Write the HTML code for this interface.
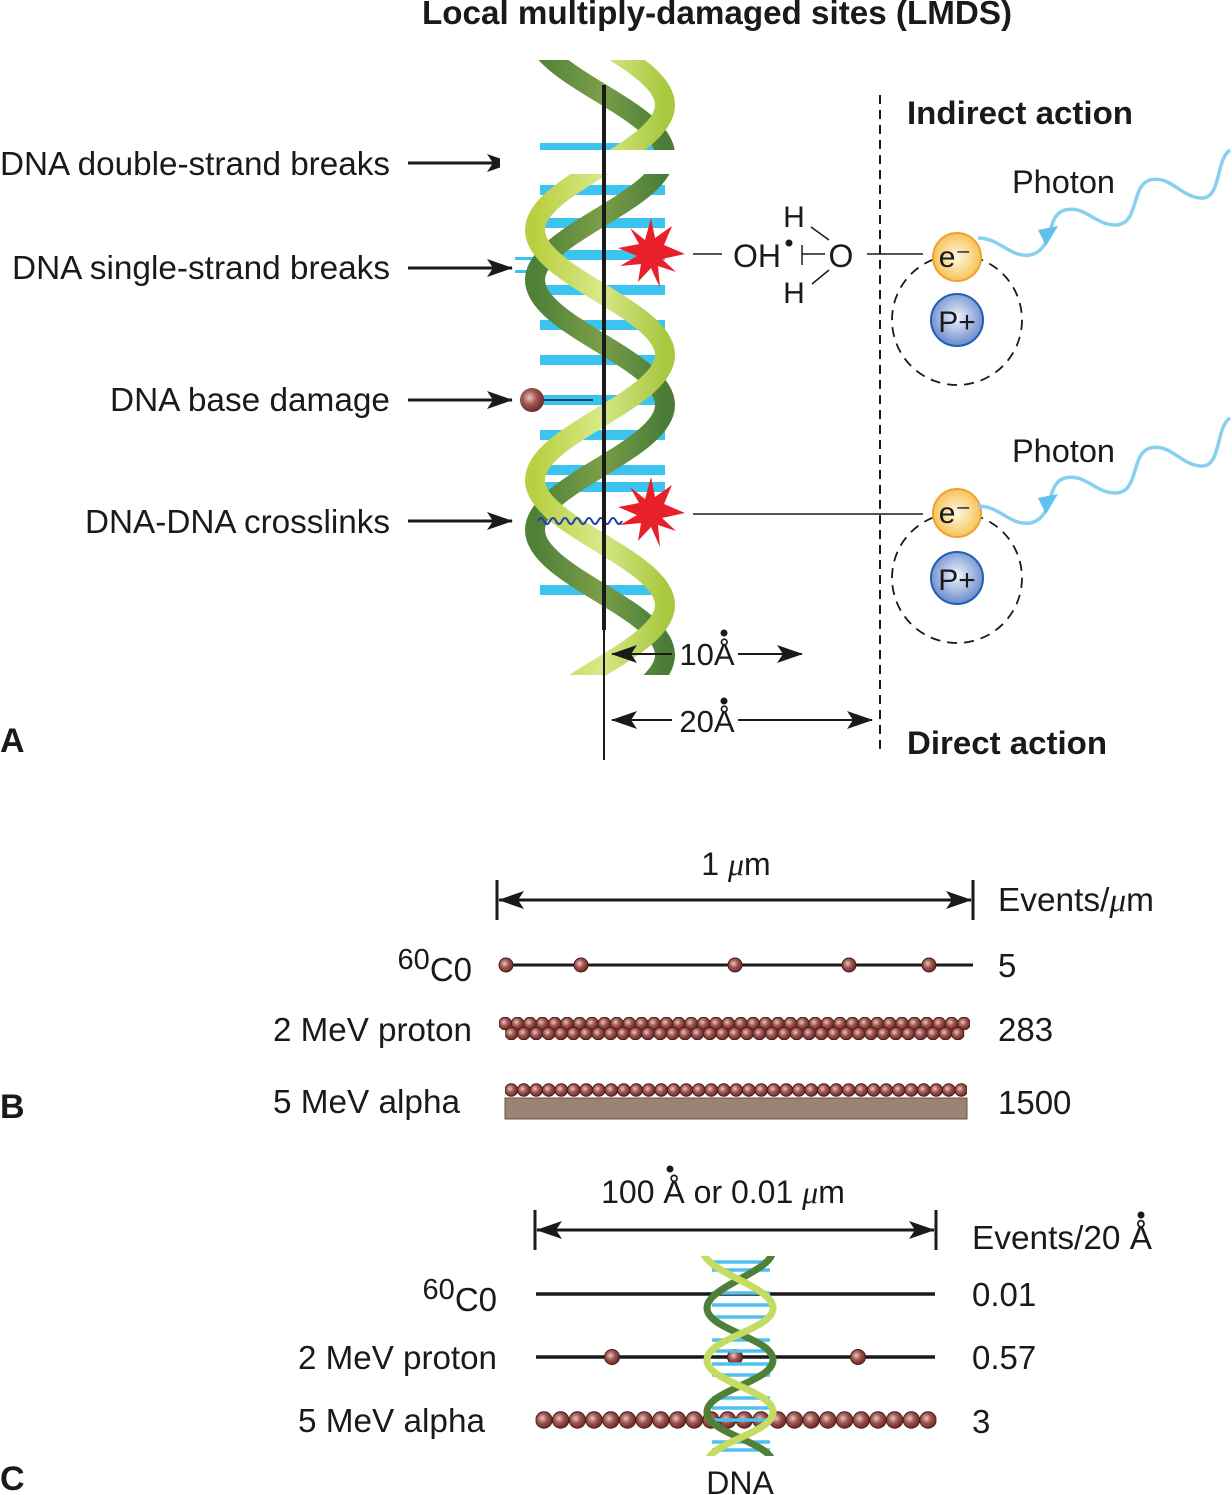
<!DOCTYPE html>
<html><head><meta charset="utf-8"><style>
html,body{margin:0;padding:0;background:#fff}
svg{display:block}
text{font-family:"Liberation Sans",Arial,sans-serif;fill:#1a1a1a}
</style></head><body>
<svg width="1232" height="1495" viewBox="0 0 1232 1495" xmlns="http://www.w3.org/2000/svg">
<defs>
<radialGradient id="ball" cx="0.4" cy="0.4" r="0.6"><stop offset="0" stop-color="#e8c8c0"/><stop offset="0.5" stop-color="#a05550"/><stop offset="1" stop-color="#6e2a28"/></radialGradient>
<radialGradient id="eg" cx="0.5" cy="0.5" r="0.6"><stop offset="0" stop-color="#fff8e0"/><stop offset="1" stop-color="#f5b840"/></radialGradient>
<radialGradient id="pg" cx="0.5" cy="0.45" r="0.6"><stop offset="0" stop-color="#f0f4ff"/><stop offset="1" stop-color="#5c80c8"/></radialGradient>
<marker id="ar2" markerWidth="26" markerHeight="18" refX="25" refY="9" orient="auto" markerUnits="userSpaceOnUse"><path d="M0,0 L26,9 L0,18 L6,9z" fill="#1a1a1a"/></marker>
<pattern id="pb" x="499" y="1017" width="12.4" height="13" patternUnits="userSpaceOnUse"><circle cx="6.2" cy="6.5" r="6.3" fill="url(#ball)" stroke="#4a1a18" stroke-width="1"/></pattern>
<pattern id="pb2" x="505.2" y="1027" width="12.4" height="13" patternUnits="userSpaceOnUse"><circle cx="6.2" cy="6.5" r="6.3" fill="url(#ball)" stroke="#4a1a18" stroke-width="1"/></pattern>
<pattern id="pa" x="505" y="1083" width="12.5" height="14" patternUnits="userSpaceOnUse"><circle cx="6.25" cy="7" r="6.3" fill="url(#ball)" stroke="#4a1a18" stroke-width="1"/></pattern>
<pattern id="pc" x="535.6" y="1411" width="16.7" height="18" patternUnits="userSpaceOnUse"><circle cx="8.35" cy="9" r="8.2" fill="url(#ball)" stroke="#4a1a18" stroke-width="1"/></pattern>
<clipPath id="hc"><rect x="500" y="60" width="200" height="615"/></clipPath>
<clipPath id="hc2"><rect x="690" y="1256" width="100" height="200"/></clipPath>
<linearGradient id="lg" x1="0" y1="0" x2="1" y2="0"><stop offset="0" stop-color="#b8d040"/><stop offset="0.5" stop-color="#d8e888"/><stop offset="1" stop-color="#a8c840"/></linearGradient>
<linearGradient id="dg" x1="0" y1="0" x2="1" y2="0"><stop offset="0" stop-color="#4e8038"/><stop offset="0.5" stop-color="#7a9e48"/><stop offset="1" stop-color="#4a7c38"/></linearGradient>
</defs>

<text x="422" y="24" font-size="33" font-weight="bold" textLength="590" lengthAdjust="spacingAndGlyphs">Local multiply-damaged sites (LMDS)</text>

<g font-size="33">
<text x="0" y="175" textLength="390" lengthAdjust="spacingAndGlyphs">DNA double-strand breaks</text>
<text x="12" y="279" textLength="378" lengthAdjust="spacingAndGlyphs">DNA single-strand breaks</text>
<text x="110" y="411" textLength="280" lengthAdjust="spacingAndGlyphs">DNA base damage</text>
<text x="85" y="533" textLength="305" lengthAdjust="spacingAndGlyphs">DNA-DNA crosslinks</text>
</g>
<g stroke="#1a1a1a" stroke-width="3" marker-end="url(#ar2)">
<line x1="408" y1="163" x2="512" y2="163"/><line x1="408" y1="268" x2="512" y2="268"/>
<line x1="408" y1="400" x2="512" y2="400"/><line x1="408" y1="521" x2="512" y2="521"/>
</g>

<g clip-path="url(#hc)">
<g fill="#3cc4f0">
<rect x="540" y="143" width="125" height="10"/>
<rect x="540" y="218" width="125" height="10"/><rect x="540" y="250" width="125" height="10"/>
<rect x="540" y="285" width="125" height="10"/><rect x="540" y="320" width="125" height="10"/>
<rect x="540" y="355" width="125" height="10"/><rect x="540" y="395" width="125" height="10"/>
<rect x="540" y="430" width="125" height="10"/><rect x="540" y="465" width="125" height="10"/>
<rect x="540" y="482" width="125" height="10"/><rect x="540" y="585" width="125" height="10"/>
<rect x="540" y="185" width="125" height="10"/>
</g>
<rect x="515" y="257" width="30" height="3" fill="#3cc4f0"/><rect x="515" y="270" width="30" height="3" fill="#3cc4f0"/>
<path d="M535,30 C535,75.5 665,109.5 665,155 C665,200.5 535,234.5 535,280 C535,325.5 665,359.5 665,405 C665,450.5 535,484.5 535,530 C535,575.5 665,609.5 665,655 C665,700.5 535,734.5 535,780" fill="none" stroke="url(#dg)" stroke-width="20"/>
<path d="M535,-20 C535,25.5 665,59.5 665,105 C665,150.5 535,184.5 535,230 C535,275.5 665,309.5 665,355 C665,400.5 535,434.5 535,480 C535,525.5 665,559.5 665,605 C665,650.5 535,684.5 535,730" fill="none" stroke="url(#lg)" stroke-width="20"/>
</g>
<rect x="500" y="150" width="200" height="24" fill="#fff"/>
<path d="M538,521 q3,-6 6,0 t6,0 t6,0 t6,0 t6,0 t6,0 t6,0 t6,0 t6,0 t6,0 t6,0 t6,0 t6,0 t6,0" fill="none" stroke="#2040b0" stroke-width="2"/>
<line x1="604" y1="85" x2="604" y2="630" stroke="#1a1a1a" stroke-width="4"/>
<line x1="604" y1="630" x2="604" y2="760" stroke="#1a1a1a" stroke-width="2"/>
<circle cx="532" cy="400" r="12" fill="url(#ball)"/>
<line x1="544" y1="400" x2="593" y2="400" stroke="#1a1a1a" stroke-width="1.5"/>
<polygon fill="#e8202a" points="685,254 662,259 676,272 658,266 660,288 651,268 638,282 641,264 620,266 637,256 618,248 639,244 630,228 645,240 651,218 655,238 672,226 664,245"/>
<polygon fill="#e8202a" points="685,513 662,518 676,531 658,525 660,547 651,527 638,541 641,523 620,525 637,515 618,507 639,503 630,487 645,499 651,477 655,497 672,485 664,504"/>

<line x1="693" y1="254" x2="722" y2="254" stroke="#1a1a1a" stroke-width="1.5"/>
<text x="733" y="267" font-size="32">OH</text>
<circle cx="789" cy="243" r="3.5" fill="#1a1a1a"/>
<text x="794" y="227" font-size="30" text-anchor="middle">H</text>
<text x="794" y="303" font-size="30" text-anchor="middle">H</text>
<text x="841" y="267" font-size="32" text-anchor="middle">O</text>
<g stroke="#1a1a1a" stroke-width="1.5"><line x1="802" y1="245" x2="802" y2="265"/><line x1="802" y1="254" x2="825" y2="254"/>
<line x1="811" y1="227" x2="829" y2="240"/><line x1="812" y1="284" x2="829" y2="270"/>
<line x1="867" y1="254" x2="923" y2="254"/><line x1="693" y1="514" x2="923" y2="514"/></g>

<line x1="880" y1="95" x2="880" y2="755" stroke="#1a1a1a" stroke-width="2" stroke-dasharray="9,6"/>
<text x="907" y="124" font-size="32" font-weight="bold" textLength="226" lengthAdjust="spacingAndGlyphs">Indirect action</text>
<text x="907" y="754" font-size="32" font-weight="bold" textLength="200" lengthAdjust="spacingAndGlyphs">Direct action</text>

<g stroke="#1a1a1a" stroke-width="2" marker-end="url(#ar2)">
<line x1="672" y1="654" x2="612" y2="654"/><line x1="738" y1="654" x2="802" y2="654"/>
<line x1="672" y1="720" x2="612" y2="720"/><line x1="738" y1="720" x2="872" y2="720"/>
</g>
<text x="707" y="665" font-size="31" text-anchor="middle">10Å</text>
<circle cx="724" cy="633" r="3.5" fill="#1a1a1a"/>
<text x="707" y="732" font-size="31" text-anchor="middle">20Å</text>
<circle cx="724" cy="701" r="3.5" fill="#1a1a1a"/>
<text x="0" y="752" font-size="34" font-weight="bold">A</text>

<circle cx="957" cy="320" r="65" fill="none" stroke="#1a1a1a" stroke-width="1.8" stroke-dasharray="10,7"/>
<circle cx="957" cy="320" r="26" fill="url(#pg)" stroke="#2060b0" stroke-width="2"/>
<text x="957" y="332" font-size="30" text-anchor="middle">P+</text>
<circle cx="957" cy="257" r="24" fill="url(#eg)" stroke="#f0a030" stroke-width="2"/>
<text x="955" y="267" font-size="30" text-anchor="middle">e⁻</text>
<circle cx="957" cy="578" r="65" fill="none" stroke="#1a1a1a" stroke-width="1.8" stroke-dasharray="10,7"/>
<circle cx="957" cy="578" r="26" fill="url(#pg)" stroke="#2060b0" stroke-width="2"/>
<text x="957" y="590" font-size="30" text-anchor="middle">P+</text>
<circle cx="957" cy="513" r="24" fill="url(#eg)" stroke="#f0a030" stroke-width="2"/>
<text x="955" y="523" font-size="30" text-anchor="middle">e⁻</text>

<text x="1012" y="193" font-size="32" textLength="103" lengthAdjust="spacingAndGlyphs">Photon</text>
<text x="1012" y="462" font-size="32" textLength="103" lengthAdjust="spacingAndGlyphs">Photon</text>
<g fill="none" stroke="#88d0f0" stroke-width="3.5">
<path d="M1230,150 C1215,160 1222,200 1200,198 C1180,196 1170,175 1150,180 C1130,186 1140,225 1115,225 C1095,225 1085,205 1065,210 C1045,215 1055,250 1030,255 C1010,258 1000,238 978,238"/>
<path d="M1230,418 C1215,428 1222,468 1200,466 C1180,464 1170,443 1150,448 C1130,454 1140,493 1115,493 C1095,493 1085,473 1065,478 C1045,483 1055,518 1030,523 C1010,526 1000,506 978,506"/>
</g>
<polygon points="1038,230 1058,226 1046,246" fill="#60c0f0"/>
<polygon points="1038,498 1058,494 1046,514" fill="#60c0f0"/>

<!-- B -->
<text x="736" y="875" font-size="32" text-anchor="middle">1 <tspan font-style="italic" font-family="Liberation Serif">μ</tspan>m</text>
<g stroke="#1a1a1a" stroke-width="3"><line x1="497" y1="880" x2="497" y2="920"/><line x1="973" y1="880" x2="973" y2="920"/></g>
<line x1="520" y1="900" x2="499" y2="900" stroke="#1a1a1a" stroke-width="3" marker-end="url(#ar2)"/>
<line x1="499" y1="900" x2="971" y2="900" stroke="#1a1a1a" stroke-width="3" marker-end="url(#ar2)"/>
<text x="998" y="911" font-size="33" textLength="156" lengthAdjust="spacingAndGlyphs">Events/<tspan font-style="italic" font-family="Liberation Serif">μ</tspan>m</text>
<text x="472" y="981" font-size="33" text-anchor="end"><tspan font-size="29" dy="-12">60</tspan><tspan dy="12">C0</tspan></text>
<line x1="500" y1="965" x2="973" y2="965" stroke="#1a1a1a" stroke-width="3"/>
<g fill="url(#ball)" stroke="#4a1a18"><circle cx="506" cy="965" r="7"/><circle cx="581" cy="965" r="7"/><circle cx="735" cy="965" r="7"/><circle cx="849" cy="965" r="7"/><circle cx="929" cy="965" r="7"/></g>
<text x="998" y="977" font-size="33">5</text>
<text x="273" y="1041" font-size="33" textLength="199" lengthAdjust="spacingAndGlyphs">2 MeV proton</text>
<rect x="499" y="1017" width="471" height="13" fill="url(#pb)"/>
<rect x="505.2" y="1027" width="459" height="13" fill="url(#pb2)"/>
<text x="998" y="1041" font-size="33">283</text>
<text x="273" y="1113" font-size="33" textLength="187" lengthAdjust="spacingAndGlyphs">5 MeV alpha</text>
<rect x="505" y="1098" width="462" height="21" fill="#9b8272" stroke="#6b5248"/>
<rect x="505" y="1083" width="462" height="14" fill="url(#pa)"/>
<text x="998" y="1114" font-size="33">1500</text>
<text x="0" y="1118" font-size="34" font-weight="bold">B</text>

<!-- C -->
<text x="723" y="1203" font-size="32" text-anchor="middle">100 Å or 0.01 <tspan font-style="italic" font-family="Liberation Serif">μ</tspan>m</text>
<circle cx="670" cy="1169" r="3.5" fill="#1a1a1a"/>
<g stroke="#1a1a1a" stroke-width="3"><line x1="535" y1="1210" x2="535" y2="1250"/><line x1="936" y1="1210" x2="936" y2="1250"/></g>
<line x1="560" y1="1230" x2="537" y2="1230" stroke="#1a1a1a" stroke-width="3" marker-end="url(#ar2)"/>
<line x1="537" y1="1230" x2="934" y2="1230" stroke="#1a1a1a" stroke-width="3" marker-end="url(#ar2)"/>
<text x="972" y="1249" font-size="33" textLength="180" lengthAdjust="spacingAndGlyphs">Events/20 Å</text>
<circle cx="1141" cy="1215" r="3.5" fill="#1a1a1a"/>
<text x="497" y="1311" font-size="33" text-anchor="end"><tspan font-size="29" dy="-12">60</tspan><tspan dy="12">C0</tspan></text>
<line x1="536" y1="1294" x2="935" y2="1294" stroke="#1a1a1a" stroke-width="3.5"/>
<text x="298" y="1369" font-size="33" textLength="199" lengthAdjust="spacingAndGlyphs">2 MeV proton</text>
<line x1="536" y1="1357" x2="935" y2="1357" stroke="#1a1a1a" stroke-width="3.5"/>
<g fill="url(#ball)" stroke="#4a1a18"><circle cx="612" cy="1357" r="7.5"/><circle cx="735" cy="1357" r="7.5"/><circle cx="858" cy="1357" r="7.5"/></g>
<text x="298" y="1432" font-size="33" textLength="187" lengthAdjust="spacingAndGlyphs">5 MeV alpha</text>
<rect x="535.6" y="1411" width="400.8" height="18" fill="url(#pc)"/>
<text x="972" y="1306" font-size="33">0.01</text>
<text x="972" y="1369" font-size="33">0.57</text>
<text x="972" y="1433" font-size="33">3</text>
<g clip-path="url(#hc2)">
<g stroke="#50c0f0" stroke-width="3.5">
<line x1="712" y1="1262" x2="770" y2="1262"/><line x1="712" y1="1270" x2="770" y2="1270"/><line x1="712" y1="1293" x2="770" y2="1293"/><line x1="712" y1="1305" x2="770" y2="1305"/><line x1="712" y1="1317" x2="770" y2="1317"/><line x1="712" y1="1340" x2="770" y2="1340"/><line x1="712" y1="1351" x2="770" y2="1351"/><line x1="712" y1="1364" x2="770" y2="1364"/><line x1="712" y1="1375" x2="770" y2="1375"/><line x1="712" y1="1398" x2="770" y2="1398"/><line x1="712" y1="1408" x2="770" y2="1408"/><line x1="712" y1="1420" x2="770" y2="1420"/><line x1="712" y1="1442" x2="770" y2="1442"/><line x1="712" y1="1450" x2="770" y2="1450"/>
</g>
<path d="M773,1250 C773,1272 707,1286 707,1308 C707,1330 773,1338 773,1360 C773,1382 707,1390 707,1412 C707,1434 773,1442 773,1464" fill="none" stroke="#4e8038" stroke-width="7"/>
<path d="M703,1250 C703,1272 773,1286 773,1308 C773,1330 707,1338 707,1360 C707,1382 773,1390 773,1412 C773,1434 707,1442 707,1464" fill="none" stroke="#c4dc60" stroke-width="7"/>
</g>
<text x="740" y="1494" font-size="32" text-anchor="middle">DNA</text>
<text x="0" y="1490" font-size="34" font-weight="bold">C</text>
</svg>
</body></html>
